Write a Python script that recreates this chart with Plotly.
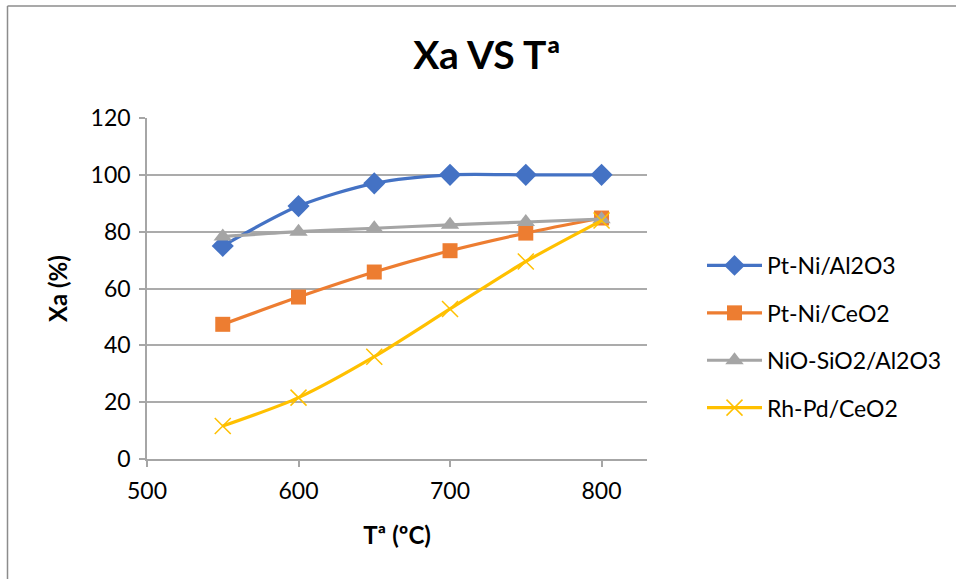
import plotly.graph_objects as go

# Conversion vs temperature for four catalysts
temperature = [550, 600, 650, 700, 750, 800]
pt_ni_al2o3 = [75, 89, 97, 100, 100, 100]
pt_ni_ceo2 = [47.4, 57, 65.8, 73.3, 79.5, 84.8]
nio_sio2_al2o3 = [78.3, 80, 81.2, 82.4, 83.4, 84.4]
rh_pd_ceo2 = [11.6, 21.6, 36, 52.8, 69.5, 83.9]

series_names = ["Pt-Ni/Al2O3", "Pt-Ni/CeO2", "NiO-SiO2/Al2O3", "Rh-Pd/CeO2"]
y_ticks = [0, 20, 40, 60, 80, 100, 120]
x_ticks = [500, 600, 700, 800]

FONT = "Lato"
TICK_SIZE = 23
styles = [
    dict(color="#4472C4", symbol="diamond", size=17),
    dict(color="#ED7D31", symbol="square", size=15),
    dict(color="#A5A5A5", symbol="triangle-up", size=16),
    dict(color="#FFC000", symbol="x-thin-open", size=16),
]

fig = go.Figure()
for i, (name, ys, st) in enumerate(zip(series_names,
                                       [pt_ni_al2o3, pt_ni_ceo2, nio_sio2_al2o3, rh_pd_ceo2],
                                       styles)):
    marker = dict(color=st["color"], symbol=st["symbol"], size=st["size"])
    if st["symbol"] == "x-thin-open":
        marker["line"] = dict(color=st["color"], width=1.5)
    fig.add_trace(go.Scatter(
        x=temperature, y=ys, name=name, mode="lines+markers",
        line=dict(color=st["color"], width=3.2, shape="spline", smoothing=0.8),
        marker=marker, legendgroup=f"g{i}",
    ))

# plot area spans roughly x 147..647 px, y 118..459 px
L, R, T, B = 147, 956 - 647, 118, 579 - 459
W, H = 956, 579
pw, ph = W - L - R, H - T - B

def px_x(px):
    return (px - L) / pw

def px_y(py):
    return (H - B - py) / ph

fig.update_layout(
    width=W, height=H,
    margin=dict(l=L, r=R, t=T, b=B, autoexpand=False),
    paper_bgcolor="white", plot_bgcolor="white",
    font=dict(family=FONT, size=TICK_SIZE, color="#000000"),
    title=dict(text="<b>Xa VS Tª</b>", x=px_x(487), xref="paper", xanchor="center",
               y=1 - 55 / H, yanchor="middle", yref="container",
               font=dict(family=FONT, size=39, color="#000000")),
    xaxis=dict(range=[500, 830], tickvals=x_ticks, showgrid=False, zeroline=False,
               showline=True, linecolor="#A6A6A6", linewidth=1.5,
               ticks="outside", ticklen=6, tickcolor="#A6A6A6", tickwidth=1.5,
               ticklabelstandoff=5,
               tickfont=dict(family=FONT, size=TICK_SIZE),
               title=dict(text="<b>Tª (ºC)</b>", font=dict(family=FONT, size=24), standoff=24)),
    yaxis=dict(range=[0, 120], tickvals=y_ticks, showgrid=True, gridcolor="#ABABAB", gridwidth=1.5,
               zeroline=False, showline=True, linecolor="#A6A6A6", linewidth=1.5,
               ticks="outside", ticklen=6, tickcolor="#A6A6A6", tickwidth=1.5,
               ticklabelstandoff=4,
               tickfont=dict(family=FONT, size=TICK_SIZE),
               title=dict(text="<b>Xa (%)</b>", font=dict(family=FONT, size=24), standoff=16)),
    legend=dict(x=px_x(702), y=px_y(244), xanchor="left", yanchor="top",
                font=dict(family=FONT, size=TICK_SIZE), itemwidth=55, tracegroupgap=14.5,
                bgcolor="rgba(0,0,0,0)"),
    shapes=[
        dict(type="line", xref="paper", yref="paper", x0=px_x(7.5), x1=px_x(7.5),
             y0=px_y(6), y1=px_y(600), line=dict(color="#8C8C8C", width=1.5)),
        dict(type="line", xref="paper", yref="paper", x0=px_x(7.5), x1=px_x(1000),
             y0=px_y(6), y1=px_y(6), line=dict(color="#8C8C8C", width=1.5)),
    ],
)

fig.write_html("out.html")
